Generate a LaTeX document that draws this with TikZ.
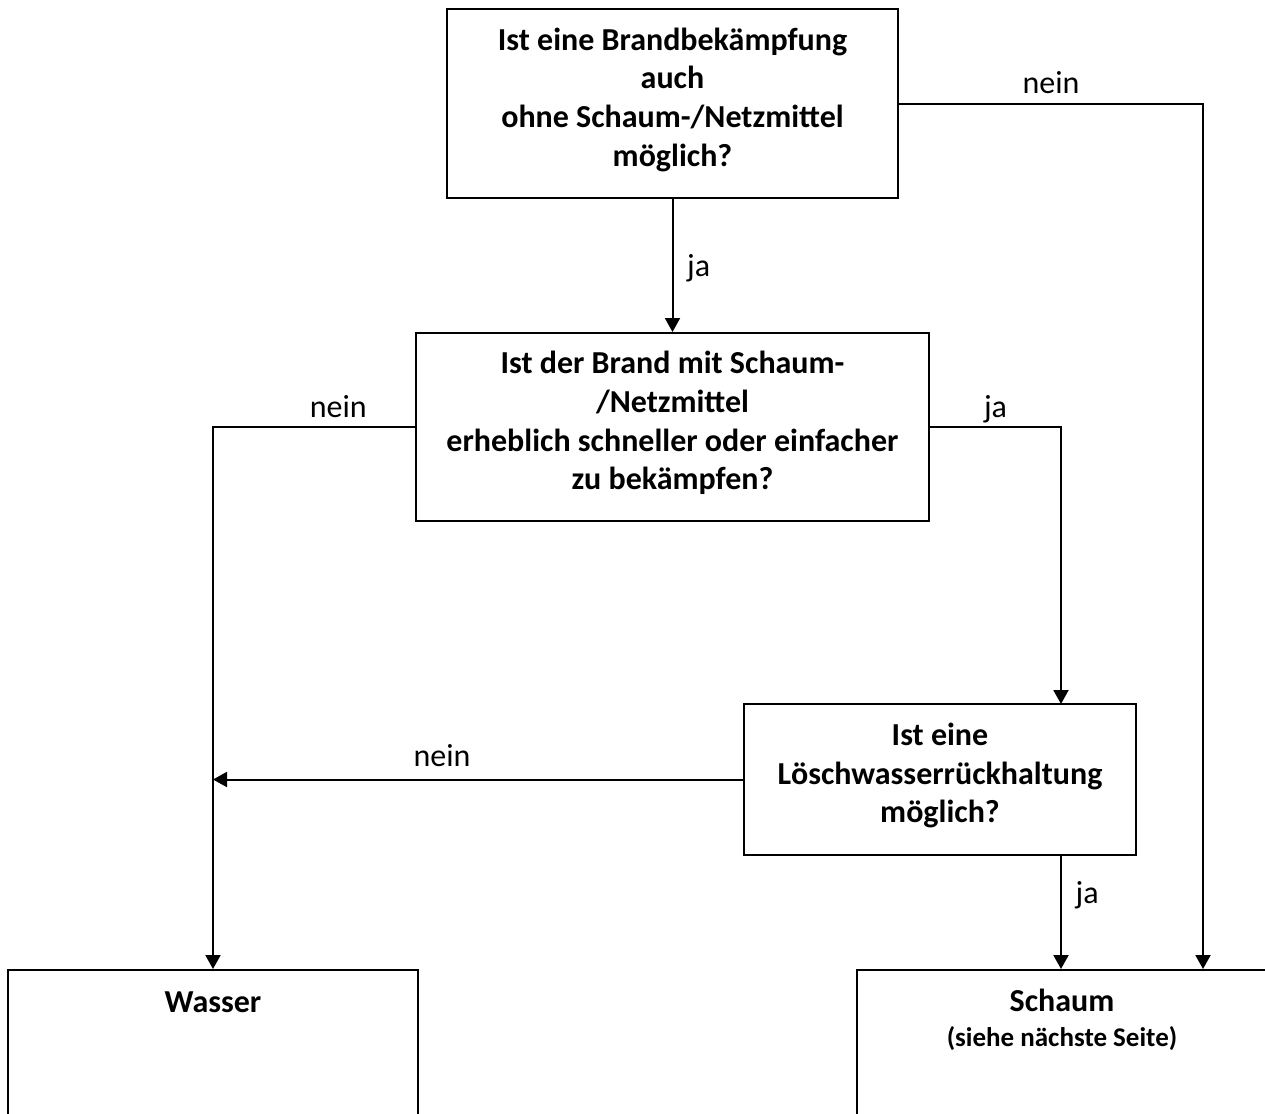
\documentclass[tikz,border=0pt]{standalone}
\usepackage{fontspec}
\setmainfont{Carlito}
\usetikzlibrary{arrows.meta}

\begin{document}
\begin{tikzpicture}[
    x=0.5pt, y=-0.5pt,
    frage/.style={rectangle, draw, line width=1pt, align=center, text depth=6.5pt,
        font=\bfseries\fontsize{16}{19.3}\selectfont},
    ziel/.style={rectangle, draw, line width=1pt, anchor=north, align=center, minimum width=205pt,
        inner ysep=10pt, text height=11pt, text depth=150pt, font=\bfseries\fontsize{16}{19.3}\selectfont},
    pfeil/.style={line width=1pt, -{Triangle[width=7.5pt, length=7pt]}},
    antwort/.style={font=\fontsize{16}{19.3}\selectfont, text depth=0pt}
]
    \useasboundingbox (0,0) rectangle (1265,1114);
    \clip (0,0) rectangle (1265,1114);

    % Fragen
    \node[frage, minimum width=225.5pt, minimum height=94.5pt] (brand) at (672.5,103.5)
        {Ist eine Brandbekämpfung\\auch\\ohne Schaum-/Netzmittel\\möglich?};
    \node[frage, minimum width=256.5pt, minimum height=94pt] (schneller) at (672.5,427)
        {Ist der Brand mit Schaum-\\/Netzmittel\\erheblich schneller oder einfacher\\zu bekämpfen?};
    \node[frage, minimum width=196pt, minimum height=75.5pt] (rueck) at (940,779.5)
        {Ist eine\\Löschwasserrückhaltung\\möglich?};

    % Ergebnisse (unten abgeschnitten)
    \node[ziel] (wasser) at (213,969) {Wasser};
    \node[ziel, text height=28pt] (schaum) at (1062,969)
        {Schaum\\[-2pt]{\fontsize{13.5}{15}\selectfont(siehe nächste Seite)}};
    \coordinate (schaumL) at (1061,969);
    \coordinate (schaumR) at (1203,969);
    \coordinate (rueckN) at (1061,704);

    % Verbindungen
    \draw[pfeil] (brand) -- node[antwort, right=3.5pt] {ja} (schneller);
    \draw[pfeil] (brand.east) -| node[antwort, pos=0.25, above=1pt] {nein} (schaumR);
    \draw[pfeil] (schneller.west) -| node[antwort, pos=0.19, above=1pt] {nein} (wasser.north);
    \draw[pfeil] (schneller.east) -| node[antwort, pos=0.25, above=1pt] {ja} (rueckN);
    \draw[pfeil] (rueck.west) -- node[antwort, pos=0.568, above=2.5pt] {nein} (rueck.west -| wasser.north);
    \draw[pfeil] (rueck.south -| schaumL) -- node[antwort, pos=0.32, right=3.5pt] {ja} (schaumL);
\end{tikzpicture}
\end{document}
